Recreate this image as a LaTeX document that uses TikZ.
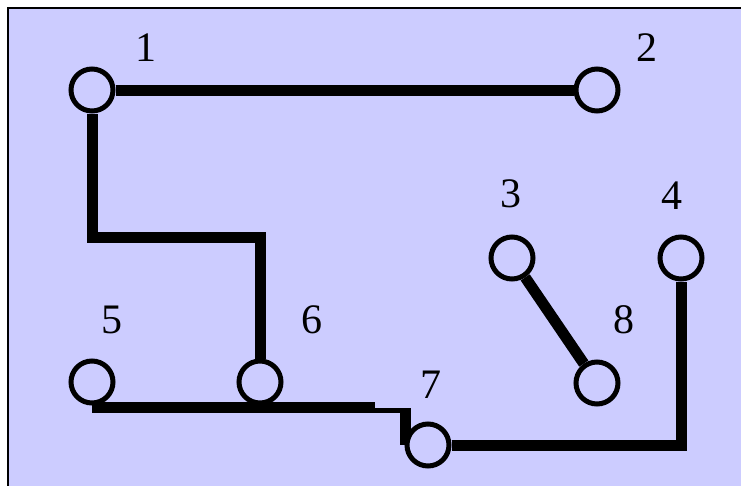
\documentclass[tikz,border=0pt]{standalone}
\usepackage{fontspec}
\setmainfont{Liberation Serif}
\usetikzlibrary{calc,backgrounds}
\definecolor{lav}{RGB}{204,204,255}
\tikzset{
  vertex/.style={circle,draw=black,line width=5pt,fill=lav,minimum size=42pt,inner sep=0pt},
  wire/.style={line width=11pt,line join=miter},
  num/.style={font=\fontsize{42}{44}\selectfont,inner sep=0pt}
}

\begin{document}
\begin{tikzpicture}[x=1pt,y=-1pt]
  \useasboundingbox (0,0) rectangle (741,485);
  % vertices
  \node[vertex] (n1) at (92,90) {};
  \node[vertex] (n2) at (597,90) {};
  \node[vertex] (n3) at (512,258) {};
  \node[vertex] (n4) at (681,258) {};
  \node[vertex] (n5) at (92,382) {};
  \node[vertex] (n6) at (260,382) {};
  \node[vertex] (n7) at (428,445) {};
  \node[vertex] (n8) at (597,383) {};
  % numbers
  \node[num] (t1) at (146,48) {1};
  \node[num] (t2) at (647,48) {2};
  \node[num] (t3) at (511,194) {3};
  \node[num] (t4) at (672,196) {4};
  \node[num] (t5) at (112,320) {5};
  \node[num] (t6) at (312,320) {6};
  \node[num] (t7) at (431,385) {7};
  \node[num] (t8) at (624,320) {8};
  % bend points
  \coordinate (c16) at (176,237.5);
  \coordinate (s5) at (92,407.5);
  \coordinate (k1) at (375,407.5);
  \coordinate (k2) at (375,410.5);
  \coordinate (k3) at (405,410.5);
  \coordinate (k4) at (405,408);
  \begin{scope}[on background layer]
    \fill[lav] (8,8) rectangle (750,495);
    \draw[line width=2pt] (8,495) -- (8,8) -- (750,8);
    \draw[wire] (n1) -- (n2);
    \draw[wire] (n1) |- (c16) -| (n6);
    \draw[wire] (n3) -- (n8);
    \draw[wire] (n7) -| (n4);
    \draw[wire] (s5) -- (k1);
    \draw[line width=5pt] (k2) -- (k3);
    \draw[wire] (k4) -- (k4 |- n7);
  \end{scope}
\end{tikzpicture}
\end{document}
